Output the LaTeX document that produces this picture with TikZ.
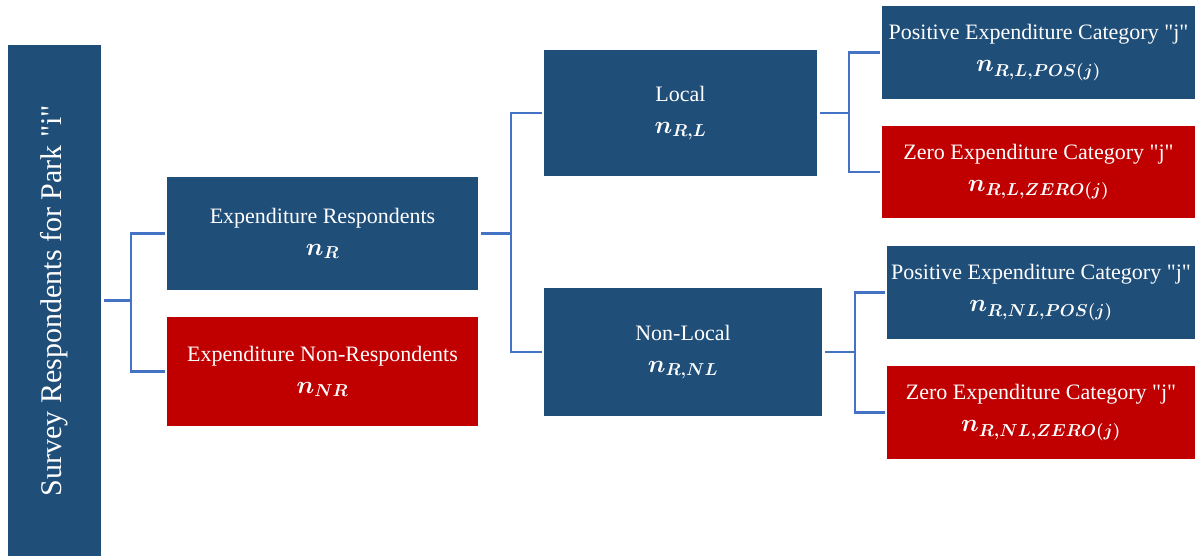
\documentclass[tikz,border=0pt]{standalone}
\usepackage{amsmath,amssymb}
\usepackage{fontspec}
\setmainfont{Liberation Serif}
\usepackage{tikz}
\usetikzlibrary{positioning, calc}
\usepackage{xcolor}
\definecolor{boxblue}{HTML}{1F4E79}
\definecolor{boxred}{HTML}{C00000}
\definecolor{linkblue}{HTML}{4472C4}
\newcommand{\qt}[1]{\textquotedbl#1\textquotedbl}
\newcommand{\cnt}[1]{{\fontsize{27}{30}\selectfont$\boldsymbol{n_{#1}}$}}

\begin{document}
\begin{tikzpicture}[x=1pt, y=-1pt,
    blue box/.style={rectangle, fill=boxblue, text=white, align=center, inner sep=0pt, font=\fontsize{22}{32}\selectfont},
    red box/.style={blue box, fill=boxred},
    link/.style={draw=linkblue, line width=2.4pt, shorten <=3pt, shorten >=2pt}]

    \useasboundingbox (0,0) rectangle (1195,556);

    % Column 0: all respondents (rotated)
    \node[blue box, rotate=90, minimum width=511pt, minimum height=93pt, font=\fontsize{30}{36}\selectfont] (survey) at (54.5,300.5) {Survey Respondents for Park \qt{i}};

    % Column 1: respondents / non-respondents
    \node[blue box, minimum width=311pt, minimum height=113pt] (resp) at (322.5,233.5) {Expenditure Respondents\\\cnt{R}};
    \node[red box, minimum width=311pt, minimum height=109pt] (nonresp) at (322.5,371.5) {Expenditure Non-Respondents\\\cnt{NR}};

    % Column 2: local / non-local
    \node[blue box, minimum width=273pt, minimum height=126pt] (local) at (680.5,113) {Local\\\cnt{R,L}};
    \node[blue box, minimum width=278pt, minimum height=128pt] (nonlocal) at (683,352) {Non-Local\\\cnt{R,NL}};

    % Column 3: expenditure categories
    \node[blue box, minimum width=313pt, minimum height=93pt] (posL) at (1038.5,52.5) {Positive Expenditure Category \qt{j}\\\cnt{R,L,POS(j)}};
    \node[red box, minimum width=313pt, minimum height=92pt] (zeroL) at (1038.5,172) {Zero Expenditure Category \qt{j}\\\cnt{R,L,ZERO(j)}};
    \node[blue box, minimum width=308pt, minimum height=93pt] (posNL) at (1041,292.5) {Positive Expenditure Category \qt{j}\\\cnt{R,NL,POS(j)}};
    \node[red box, minimum width=308pt, minimum height=93pt] (zeroNL) at (1041,412.5) {Zero Expenditure Category \qt{j}\\\cnt{R,NL,ZERO(j)}};

    % Forks
    \draw[link] (survey.south) -- ++(30,0) coordinate (forkA) |- (resp.west);
    \draw[link, shorten <=0pt] (forkA) |- (nonresp.west);

    \draw[link] (resp.east) -- ++(33,0) coordinate (forkB) |- (local.west);
    \draw[link, shorten <=0pt] (forkB) |- (nonlocal.west);

    \draw[link] (local.east) -- ++(32,0) coordinate (forkC) |- (posL.west);
    \draw[link, shorten <=0pt] (forkC) |- (zeroL.west);

    \draw[link] (nonlocal.east) -- ++(33,0) coordinate (forkD) |- (posNL.west);
    \draw[link, shorten <=0pt] (forkD) |- (zeroNL.west);
\end{tikzpicture}
\end{document}
